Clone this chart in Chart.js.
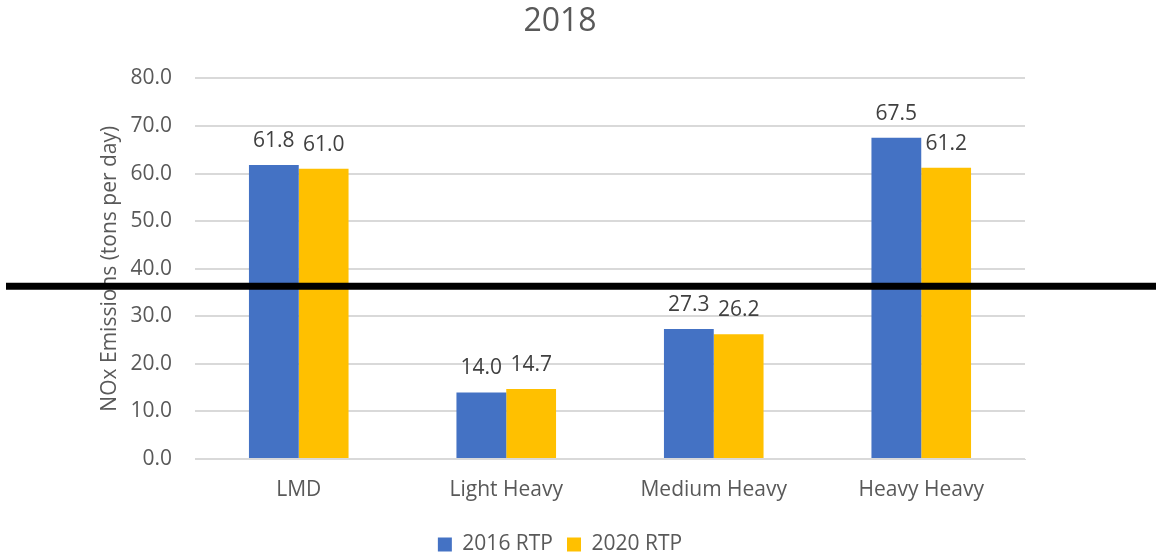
<!DOCTYPE html>
<html>
<head>
<meta charset="utf-8">
<script src="https://cdn.jsdelivr.net/npm/chart.js@4"></script>
<style>
  html, body { margin: 0; padding: 0; background: #fff; }
  #wrap { width: 1156px; height: 558px; }
</style>
</head>
<body>
<div id="wrap"><canvas id="chart" width="1156" height="558"></canvas></div>
<script>
const categories = ['LMD', 'Light Heavy', 'Medium Heavy', 'Heavy Heavy'];
const rtp2016 = [61.8, 14.0, 27.3, 67.5];
const rtp2020 = [61.0, 14.7, 26.2, 61.2];
const seriesNames = ['2016 RTP', '2020 RTP'];
const refLineValue = 36.3;

const fontFamily = "'Open Sans', 'Liberation Sans', sans-serif";

// value labels above each bar
const barLabels = {
  id: 'barLabels',
  afterDatasetsDraw(chart) {
    const ctx = chart.ctx;
    ctx.save();
    ctx.font = '21px ' + fontFamily;
    ctx.fillStyle = '#404040';
    ctx.textAlign = 'center';
    ctx.textBaseline = 'middle';
    chart.data.datasets.forEach((ds, i) => {
      chart.getDatasetMeta(i).data.forEach((bar, j) => {
        ctx.fillText(ds.data[j].toFixed(1), bar.x, bar.y - 24);
      });
    });
    ctx.restore();
  }
};

// thick black line across the whole picture
const refLine = {
  id: 'refLine',
  afterDraw(chart) {
    const ctx = chart.ctx;
    const y = chart.scales.y.getPixelForValue(refLineValue);
    ctx.save();
    ctx.strokeStyle = '#000';
    ctx.lineWidth = 7;
    ctx.beginPath();
    ctx.moveTo(6, y);
    ctx.lineTo(chart.width, y);
    ctx.stroke();
    ctx.restore();
  }
};

new Chart(document.getElementById('chart').getContext('2d'), {
  type: 'bar',
  data: {
    labels: categories,
    datasets: [
      { label: seriesNames[0], data: rtp2016, backgroundColor: '#4472C4' },
      { label: seriesNames[1], data: rtp2020, backgroundColor: '#FFC000' }
    ]
  },
  options: {
    responsive: false,
    animation: false,
    layout: { padding: { left: 95, right: 131, top: 3, bottom: -7 } },
    datasets: { bar: { barPercentage: 1, categoryPercentage: 0.48 } },
    plugins: {
      title: {
        display: true,
        text: '2018',
        color: '#595959',
        font: { family: fontFamily, size: 32, weight: 'normal' },
        padding: { top: 0, bottom: 37 }
      },
      legend: {
        position: 'bottom',
        labels: {
          color: '#595959',
          font: { family: fontFamily, size: 21 },
          boxWidth: 14,
          boxHeight: 14,
          padding: 14
        }
      },
      tooltip: { enabled: false }
    },
    scales: {
      x: {
        afterFit(scale) { scale.height = 61; },
        grid: { display: false },
        border: { display: true, color: '#d9d9d9' },
        ticks: { color: '#595959', font: { family: fontFamily, size: 21 }, padding: 10 }
      },
      y: {
        min: 0,
        max: 80,
        afterFit(scale) { scale.width = 100; },
        grid: { color: '#d9d9d9', lineWidth: 2, drawTicks: false },
        border: { display: false },
        ticks: {
          stepSize: 10,
          color: '#595959',
          font: { family: fontFamily, size: 21 },
          padding: 23,
          callback: v => v.toFixed(1)
        },
        title: {
          display: true,
          text: 'NOx Emissions (tons per day)',
          color: '#595959',
          font: { family: fontFamily, size: 21 },
          padding: { top: 2, bottom: 0 }
        }
      }
    }
  },
  plugins: [barLabels, refLine]
});
</script>
</body>
</html>
